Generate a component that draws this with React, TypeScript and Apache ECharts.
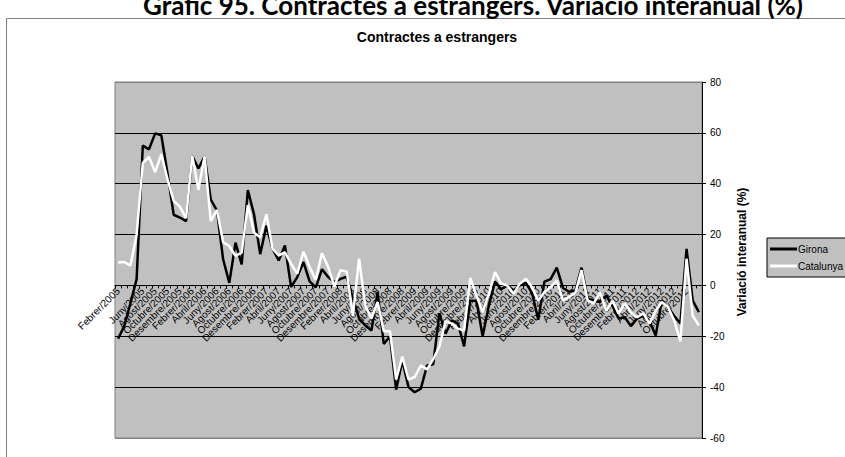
import React, { useEffect, useRef } from "react";
import * as echarts from "echarts";

const MONTHS = ["Gener", "Febrer", "Març", "Abril", "Maig", "Juny", "Juliol", "Agost", "Setembre", "Octubre", "Novembre", "Desembre"];
const YEARS = [2005, 2006, 2007, 2008, 2009, 2010, 2011, 2012];

const categories: string[] = [];
YEARS.forEach((y) => {
  MONTHS.forEach((m, i) => {
    if (y === 2005 && i === 0) return;
    categories.push(`${m}/${y}`);
  });
});

const girona = [
  -21, -16, -7, 2.5, 55, 53.5, 59.8, 59, 44, 27.8, 26.7, 25.3,
  51, 46, 50.8, 33.8, 29.4, 10.3, 1, 16.8, 8.3, 37.5, 28, 12.3,
  23.5, 14.4, 9.8, 15.7, -0.6, 3.3, 9.2, 1.6, -0.8, 6.4, 3.3, 1.3,
  2.6, 3.4, -5, -13, -15.7, -17.7, -2.6, -23, -20, -41, -29.5, -40,
  -42, -40.6, -31.5, -31, -11, -19, -13.7, -15, -24, -6, -6, -20,
  -8, 1.5, -1.5, 0, -2, 0, 1, -3, -13.5, 1.5, 2.5, 7,
  -1, -2.5, -2, 7, -5, -6, -6.5, -4, -8, -13, -12.5, -16,
  -13, -12, -14, -19.7, -6, -8.5, -12, -15, 14.4, -6, -10.5,
];

const catalunya = [
  9, 9.2, 7.8, 20, 48.2, 50.5, 44.6, 51.6, 41.7, 33.2, 31, 26.5,
  51, 37.5, 50.8, 25.3, 29.7, 17, 15.5, 11.6, 12.9, 31.6, 20.7, 19,
  28, 14.4, 11.8, 13, 8.5, 4.6, 13.3, 7.2, 2.2, 12.7, 7.2, -0.4,
  6, 5.5, -12, 10.5, -8, -13, -6.5, -18, -18, -37, -28, -37,
  -36, -31.5, -33, -29, -24, -14, -15, -17, -17.7, 3, -4, -10.5,
  -3.3, 5.2, 0.7, 0, -3.3, 0.7, 2.6, -0.7, -6, -2.6, -0.7, 2,
  -6, -4.5, -3, 6, -6, -7, -2.6, -10, -6, -11, -7, -10.5,
  -12.5, -11, -15, -10, -6.5, -8.5, -13.8, -22, 10.5, -12, -15.7,
];

const Y_MIN = -60;
const Y_MAX = 80;
const Y_STEP = 20;

const GRID_TOP = 82;
const GRID_BOTTOM = 19;
const CHART_H = 457;

const FONT = "Liberation Sans, Arial, sans-serif";

export default function App() {
  const ref = useRef<HTMLDivElement>(null);
  useEffect(() => {
    if (!ref.current) return;
    const chart = echarts.init(ref.current, undefined, { renderer: "svg" });
    const gridH = CHART_H - GRID_TOP - GRID_BOTTOM;
    const zeroOffset = -(gridH * (0 - Y_MIN)) / (Y_MAX - Y_MIN);
    chart.setOption({
      animation: false,
      backgroundColor: "#ffffff",
      graphic: [
        {
          type: "rect",
          shape: { x: 6.5, y: 18.5, width: 1000, height: 700 },
          style: { fill: "none", stroke: "#808080", lineWidth: 1 },
          silent: true,
        },
        {
          type: "text",
          x: 473,
          y: 18,
          style: {
            text: "Gràfic 95. Contractes a estrangers. Variació interanual (%)",
            font: "bold 26px Lato, sans-serif",
            fill: "#000",
            textAlign: "center",
            textVerticalAlign: "bottom",
          },
        },
        {
          type: "text",
          x: 437,
          y: 37,
          style: {
            text: "Contractes a estrangers",
            font: `bold 14px ${FONT}`,
            fill: "#000",
            textAlign: "center",
            textVerticalAlign: "middle",
          },
        },
        {
          type: "text",
          x: 742,
          y: 252,
          rotation: Math.PI / 2,
          style: {
            text: "Variació interanual (%)",
            font: `bold 12px ${FONT}`,
            fill: "#000",
            textAlign: "center",
            textVerticalAlign: "middle",
          },
        },
      ],
      legend: {
        data: ["Girona", "Catalunya"],
        orient: "vertical",
        left: 767,
        top: 238,
        backgroundColor: "#c0c0c0",
        borderColor: "#000",
        borderWidth: 1,
        borderRadius: 0,
        padding: [6, 6, 6, 3],
        itemGap: 7,
        itemWidth: 27,
        itemHeight: 3,
        icon: "rect",
        textStyle: { fontFamily: FONT, fontSize: 10, color: "#000", padding: [0, 0, 0, -4] },
      },
      grid: {
        left: 115,
        right: 143,
        top: GRID_TOP,
        bottom: GRID_BOTTOM,
        containLabel: false,
        outerBoundsMode: "none",
        show: true,
        backgroundColor: "#c0c0c0",
        borderColor: "#808080",
        borderWidth: 1,
      },
      xAxis: {
        type: "category",
        data: categories,
        boundaryGap: true,
        offset: zeroOffset,
        axisLine: { onZero: false, lineStyle: { color: "#000", width: 1 } },
        axisTick: { show: true, interval: 0, length: 3, lineStyle: { color: "#000" } },
        axisLabel: {
          interval: 1,
          rotate: 45,
          showMinLabel: true,
          hideOverlap: false,
          fontFamily: FONT,
          fontSize: 10,
          color: "#000",
          margin: 4,
        },
        splitLine: { show: false },
      },
      yAxis: {
        type: "value",
        position: "right",
        min: Y_MIN,
        max: Y_MAX,
        interval: Y_STEP,
        axisLine: { show: true, lineStyle: { color: "#000", width: 1 } },
        axisTick: { show: true, length: 4, lineStyle: { color: "#000" } },
        axisLabel: { fontFamily: FONT, fontSize: 10, color: "#000", margin: 8 },
        splitLine: {
          show: true,
          lineStyle: {
            color: ["#808080", "#000", "#000", "#000", "#000", "#000", "#000", "#808080"],
            width: 1,
          },
        },
      },
      series: [
        {
          name: "Girona",
          type: "line",
          data: girona,
          symbol: "none",
          lineStyle: { color: "#000", width: 2.5 },
          itemStyle: { color: "#000" },
        },
        {
          name: "Catalunya",
          type: "line",
          data: catalunya,
          symbol: "none",
          lineStyle: { color: "#fff", width: 2.5 },
          itemStyle: { color: "#fff" },
        },
      ],
    });
    return () => chart.dispose();
  }, []);
  return (
    <div
      ref={ref}
      style={{ position: "absolute", left: 0, top: 0, width: 845, height: 457 }}
    />
  );
}
